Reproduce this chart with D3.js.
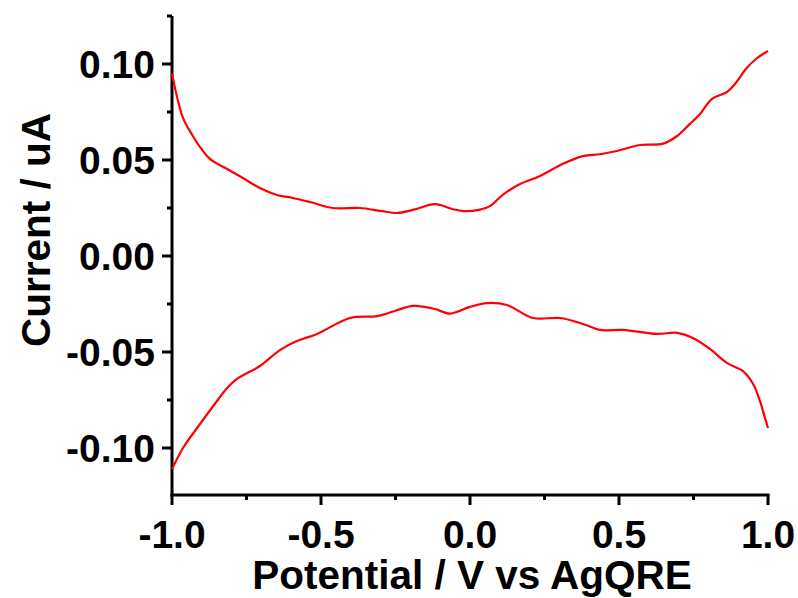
<!DOCTYPE html>
<html>
<head>
<meta charset="utf-8">
<script src="https://cdn.jsdelivr.net/npm/d3@7"></script>
<style>
  html, body { margin: 0; padding: 0; background: #fff; }
  svg { display: block; }
  .tick-label, .axis-title { font-family: "Liberation Sans", Arial, sans-serif; font-weight: bold; fill: #000; }
</style>
</head>
<body>
<svg id="chart" width="798" height="598"></svg>
<script>
// Forward (upper) branch of the voltammogram: potential (V) and current (uA)
const forwardPotential = [-1.0, -0.963, -0.93, -0.90, -0.872, -0.815, -0.762, -0.705, -0.648, -0.594, -0.537,
  -0.46, -0.369, -0.30, -0.245, -0.191, -0.117, -0.06, -0.023, 0.03, 0.067, 0.111, 0.168, 0.235, 0.312,
  0.379, 0.436, 0.493, 0.57, 0.648, 0.695, 0.738, 0.772, 0.812, 0.862, 0.889, 0.929, 0.963, 1.0];
const forwardCurrent = [0.095, 0.0719, 0.0625, 0.0555, 0.0505, 0.0453, 0.0406, 0.0354, 0.0318, 0.0302, 0.0281,
  0.025, 0.025, 0.0235, 0.0224, 0.024, 0.027, 0.0245, 0.0234, 0.024, 0.026, 0.032, 0.0375, 0.0417, 0.048,
  0.052, 0.053, 0.0547, 0.0578, 0.0585, 0.0625, 0.0688, 0.074, 0.0818, 0.0854, 0.0896, 0.098, 0.103, 0.1068];

// Reverse (lower) branch
const reversePotential = [-1.0, -0.963, -0.906, -0.849, -0.815, -0.782, -0.705, -0.638, -0.581, -0.513,
  -0.403, -0.312, -0.25, -0.191, -0.12, -0.067, 0.0, 0.057, 0.124, 0.211, 0.302, 0.379, 0.436, 0.513,
  0.628, 0.695, 0.748, 0.805, 0.862, 0.916, 0.95, 0.973, 0.99, 1.0];
const reverseCurrent = [-0.111, -0.100, -0.0875, -0.0755, -0.0688, -0.064, -0.0573, -0.049, -0.0443, -0.0406,
  -0.0323, -0.0313, -0.0285, -0.026, -0.0275, -0.030, -0.0265, -0.0245, -0.0255, -0.0323, -0.0323, -0.0354, -0.0385, -0.0385,
  -0.0406, -0.040, -0.0427, -0.0484, -0.0557, -0.060, -0.0667, -0.0755, -0.0844, -0.0896];

const xTicks = [-1.0, -0.5, 0.0, 0.5, 1.0];
const xMinorTicks = [-0.75, -0.25, 0.25, 0.75];
const yTicks = [-0.10, -0.05, 0.00, 0.05, 0.10];
const yMinorTicks = [-0.075, -0.025, 0.025, 0.075, 0.125];

const xTitle = "Potential / V vs AgQRE";
const yTitle = "Current / uA";

const svg = d3.select("#chart");
const x = d3.scaleLinear().domain([-1.0, 1.0]).range([172, 768]);
const y = d3.scaleLinear().domain([-0.125, 0.125]).range([496, 16]);

const axisY0 = 495;   // baseline of the x axis
const axisX0 = 172;   // position of the y axis

const ink = "#000";
const axisWidth = 3;

// axis lines
svg.append("line").attr("x1", axisX0).attr("x2", axisX0)
  .attr("y1", y(0.125)).attr("y2", axisY0 + 1.5)
  .attr("stroke", ink).attr("stroke-width", axisWidth);
svg.append("line").attr("x1", axisX0 - 1.5).attr("x2", x(1.0) + 1.5)
  .attr("y1", axisY0).attr("y2", axisY0)
  .attr("stroke", ink).attr("stroke-width", axisWidth);

// x ticks (outward, down)
svg.selectAll(".xt").data(xTicks).join("line")
  .attr("x1", d => x(d)).attr("x2", d => x(d))
  .attr("y1", axisY0).attr("y2", axisY0 + 10)
  .attr("stroke", ink).attr("stroke-width", axisWidth);
svg.selectAll(".xmt").data(xMinorTicks).join("line")
  .attr("x1", d => x(d)).attr("x2", d => x(d))
  .attr("y1", axisY0).attr("y2", axisY0 + 5)
  .attr("stroke", ink).attr("stroke-width", axisWidth);
svg.selectAll(".xl").data(xTicks).join("text")
  .attr("class", "tick-label")
  .attr("x", d => x(d)).attr("y", 548)
  .attr("text-anchor", "middle").attr("font-size", 39)
  .text(d => d3.format(".1f")(d).replace("−", "-"));

// y ticks (outward, left)
svg.selectAll(".yt").data(yTicks).join("line")
  .attr("x1", axisX0 - 10).attr("x2", axisX0)
  .attr("y1", d => y(d)).attr("y2", d => y(d))
  .attr("stroke", ink).attr("stroke-width", axisWidth);
svg.selectAll(".ymt").data(yMinorTicks).join("line")
  .attr("x1", axisX0 - 5).attr("x2", axisX0)
  .attr("y1", d => y(d)).attr("y2", d => y(d))
  .attr("stroke", ink).attr("stroke-width", axisWidth);
svg.selectAll(".yl").data(yTicks).join("text")
  .attr("class", "tick-label")
  .attr("x", 155).attr("y", d => y(d) + 14)
  .attr("text-anchor", "end").attr("font-size", 39)
  .text(d => d3.format(".2f")(d).replace("−", "-"));

// axis titles
svg.append("text").attr("class", "axis-title")
  .attr("x", 472).attr("y", 589)
  .attr("text-anchor", "middle").attr("font-size", 40.5)
  .text(xTitle);
svg.append("text").attr("class", "axis-title")
  .attr("transform", "translate(50,230) rotate(-90)")
  .attr("text-anchor", "middle").attr("font-size", 40.5)
  .text(yTitle);

// voltammogram branches
const line = d3.line().x(d => x(d[0])).y(d => y(d[1])).curve(d3.curveCatmullRom.alpha(0.5));
const forward = forwardPotential.map((p, i) => [p, forwardCurrent[i]]);
const reverse = reversePotential.map((p, i) => [p, reverseCurrent[i]]);
[forward, reverse].forEach(branch => {
  svg.append("path").datum(branch)
    .attr("d", line)
    .attr("fill", "none")
    .attr("stroke", "#ff0000")
    .attr("stroke-width", 2.2);
});
</script>
</body>
</html>
